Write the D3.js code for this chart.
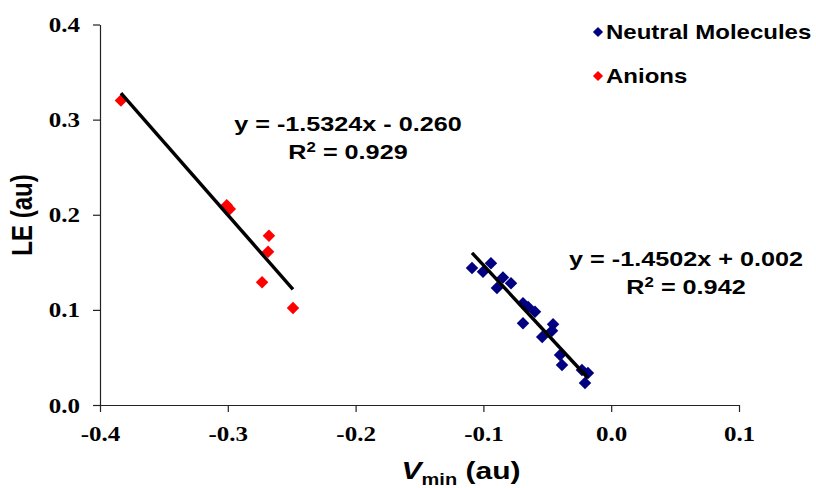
<!DOCTYPE html>
<html lang="en">
<head>
    <meta charset="UTF-8">
    <title>LE vs Vmin</title>
    <script src="https://d3js.org/d3.v7.min.js"></script>
</head>

<style>
    body {
        margin: 0;
        padding: 0;
        background: #fff;
    }

    svg {
        display: block;
    }

    .tick text {
        font-family: "Liberation Serif", "Times New Roman", serif;
        font-weight: bold;
        font-size: 20px;
        fill: #000;
    }

    .label {
        font-family: "Liberation Sans", Arial, sans-serif;
        font-weight: bold;
        fill: #000;
    }
</style>

<body>
<div class="chart-container"></div>

<script>
  /** DATA */
  var neutralX = [-0.1089, -0.1003, -0.0941, -0.0894, -0.0847, -0.0784, -0.0690, -0.0650, -0.0596,
                  -0.0690, -0.0455, -0.0463, -0.0540, -0.0400, -0.0385, -0.0229, -0.0182, -0.0205];
  var neutralY = [0.144, 0.140, 0.149, 0.123, 0.134, 0.128, 0.107, 0.103, 0.098,
                  0.086, 0.085, 0.078, 0.0715, 0.0526, 0.042, 0.0368, 0.0336, 0.0231];

  var anionX = [-0.3836, -0.3008, -0.2984, -0.2678, -0.2685, -0.2732, -0.2490];
  var anionY = [0.320, 0.210, 0.206, 0.178, 0.161, 0.129, 0.102];

  // trendline coefficients [slope, intercept] and labels
  var neutralFit = [-1.4502, 0.002];
  var anionFit = [-1.5324, -0.260];
  var neutralEq = ['y = -1.4502x + 0.002', '0.942'];
  var anionEq = ['y = -1.5324x - 0.260', '0.929'];

  var seriesNames = ['Neutral Molecules', 'Anions'];
  var seriesColors = ['#000080', '#ff0000'];

  var xTicks = [-0.4, -0.3, -0.2, -0.1, 0.0, 0.1];
  var yTicks = [0.0, 0.1, 0.2, 0.3, 0.4];

  /** LAYOUT */
  var width = 816, height = 488;
  var stretch = 1.25; // text in the picture is wider than it is tall

  var svg = d3.select('.chart-container')
    .append('svg')
    .attr('width', width)
    .attr('height', height);

  var x = d3.scaleLinear().domain([-0.4, 0.1]).range([100, 739]);
  var y = d3.scaleLinear().domain([0, 0.4]).range([405, 24.5]);

  /** AXES */
  var xAxis = svg.append('g')
    .attr('transform', 'translate(0,' + y(0) + ')')
    .call(d3.axisBottom(x).tickValues(xTicks).tickSize(7).tickSizeOuter(0)
      .tickFormat(d3.format('.1f')));

  xAxis.selectAll('.tick text')
    .attr('y', 0)
    .attr('dy', 0)
    .attr('transform', 'translate(0,36) scale(' + stretch + ',1)')
    .text(function (d) { return d3.format('.1f')(d).replace('−', '-'); });

  var yAxis = svg.append('g')
    .attr('transform', 'translate(' + x(-0.4) + ',0)')
    .call(d3.axisLeft(y).tickValues(yTicks).tickSize(7).tickSizeOuter(0)
      .tickFormat(d3.format('.1f')));

  yAxis.selectAll('.tick text')
    .attr('x', 0)
    .attr('dy', 0)
    .attr('transform', 'translate(-20,7) scale(' + stretch + ',1)');

  svg.selectAll('.domain, .tick line')
    .attr('stroke', '#222')
    .attr('stroke-width', 1.2);

  /** TRENDLINES */
  function drawFit(xs, fit) {
    var x0 = d3.min(xs), x1 = d3.max(xs);
    svg.append('line')
      .attr('x1', x(x0)).attr('y1', y(fit[0] * x0 + fit[1]))
      .attr('x2', x(x1)).attr('y2', y(fit[0] * x1 + fit[1]))
      .attr('stroke', '#000')
      .attr('stroke-width', 3.4);
  }

  /** MARKERS: excel style diamonds (rotated squares) */
  var diamond = d3.symbol().type(d3.symbolSquare).size(78);

  function drawPoints(xs, ys, color) {
    svg.append('g')
      .selectAll('path')
      .data(xs)
      .enter().append('path')
      .attr('d', diamond)
      .attr('fill', color)
      .attr('transform', function (d, i) {
        return 'translate(' + x(d) + ',' + y(ys[i]) + ') rotate(45)';
      });
  }

  drawPoints(neutralX, neutralY, seriesColors[0]);
  drawPoints(anionX, anionY, seriesColors[1]);
  drawFit(anionX, anionFit);
  drawFit(neutralX, neutralFit);

  /** EQUATION LABELS */
  function drawEquation(cx, cy, lines) {
    var g = svg.append('g')
      .attr('transform', 'translate(' + cx + ',' + cy + ') scale(1.2,1)');
    g.append('text')
      .classed('label', true)
      .style('font-size', '21px')
      .attr('text-anchor', 'middle')
      .text(lines[0]);
    var r = g.append('text')
      .classed('label', true)
      .style('font-size', '21px')
      .attr('text-anchor', 'middle')
      .attr('y', 28);
    r.append('tspan').text('R');
    r.append('tspan').attr('dy', -7).style('font-size', '14px').text('2');
    r.append('tspan').attr('dy', 7).text(' = ' + lines[1]);
  }

  drawEquation(348, 131, anionEq);
  drawEquation(686, 266, neutralEq);

  /** LEGEND */
  var legendDiamond = d3.symbol().type(d3.symbolSquare).size(52);
  var legend = svg.append('g')
    .selectAll('g')
    .data(seriesNames)
    .enter().append('g')
    .attr('transform', function (_, i) { return 'translate(598,' + (32 + i * 44) + ')'; });

  legend.append('path')
    .attr('d', legendDiamond)
    .attr('transform', 'rotate(45)')
    .attr('fill', function (_, i) { return seriesColors[i]; });

  legend.append('text')
    .classed('label', true)
    .style('font-size', '20px')
    .attr('transform', 'translate(8,7) scale(1.2,1)')
    .text(function (d) { return d; });

  /** AXIS TITLES */
  var xTitle = svg.append('text')
    .classed('label', true)
    .style('font-size', '24px')
    .attr('text-anchor', 'middle')
    .attr('transform', 'translate(461,479) scale(' + stretch + ',1)');
  xTitle.append('tspan').style('font-style', 'italic').text('V');
  xTitle.append('tspan').attr('dy', 6).style('font-size', '16px').text('min');
  xTitle.append('tspan').attr('dy', -6).text(' (au)');

  svg.append('text')
    .classed('label', true)
    .style('font-size', '24px')
    .attr('text-anchor', 'middle')
    .attr('transform', 'translate(32,215) scale(' + stretch + ',1) rotate(-90)')
    .text('LE (au)');
</script>
</body>
</html>
